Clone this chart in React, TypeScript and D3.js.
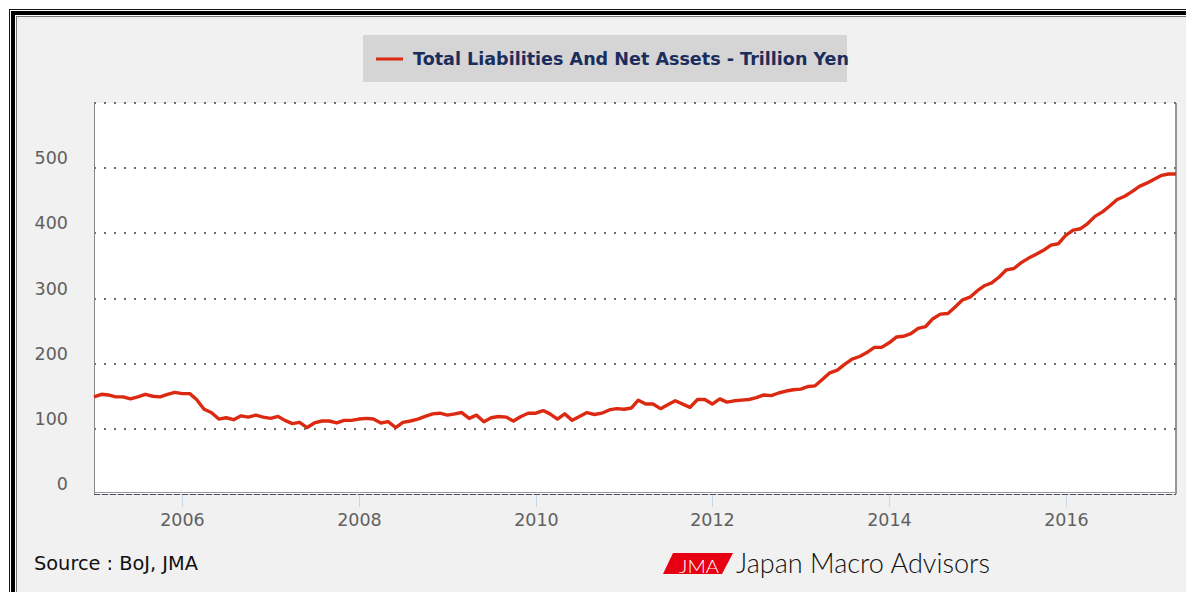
import React from "react"
import * as d3 from "d3"

// BoJ balance sheet, monthly, trillion yen
const v2005 = [149, 153, 152, 149, 149, 146, 149, 153, 150, 149, 153, 156]
const v2006 = [154, 154, 145, 130, 125, 115, 117, 114, 120, 118, 121, 118]
const v2007 = [116, 119, 113, 108, 110, 102, 109, 112, 112, 109, 113, 113]
const v2008 = [115, 116, 115, 109, 111, 102, 110, 112, 115, 119, 123, 124]
const v2009 = [121, 123, 125, 116, 121, 111, 117, 119, 118, 112, 119, 124]
const v2010 = [124, 128, 123, 115, 123, 113, 119, 125, 122, 124, 129, 131]
const v2011 = [130, 132, 144, 138, 138, 131, 137, 143, 138, 133, 145, 145]
const v2012 = [138, 146, 141, 143, 144, 145, 148, 152, 151, 155, 158, 160]
const v2013 = [161, 165, 166, 176, 186, 190, 199, 207, 211, 217, 225, 225]
const v2014 = [232, 241, 242, 246, 254, 257, 269, 276, 277, 287, 298, 302]
const v2015 = [312, 320, 324, 333, 344, 346, 355, 362, 368, 374, 382, 384]
const v2016 = [397, 405, 407, 415, 426, 433, 442, 452, 457, 464, 472, 477]
const v2017 = [483, 489, 491, 491]

const years = [2005, 2006, 2007, 2008, 2009, 2010, 2011, 2012, 2013, 2014, 2015, 2016, 2017]
const byYear = [v2005, v2006, v2007, v2008, v2009, v2010, v2011, v2012, v2013, v2014, v2015, v2016, v2017]

const yTicks = [0, 100, 200, 300, 400, 500]
const gridTicks = [100, 200, 300, 400, 500, 600]
const xTickYears = [2006, 2008, 2010, 2012, 2014, 2016]

const seriesName = "Total Liabilities And Net Assets - Trillion Yen"
const sourceText = "Source : BoJ, JMA"

type Pt = { date: Date; value: number }

const data: Pt[] = []
years.forEach((yr, i) => {
  byYear[i].forEach((v, m) => data.push({ date: new Date(yr, m, 1), value: v }))
})

const W = 1186
const H = 592
const left = 94
const right = 1176
const top = 103
const bottom = 494

export default function App() {
  const x = d3.scaleTime()
    .domain(d3.extent(data, d => d.date) as [Date, Date])
    .range([left, right])
  const y = d3.scaleLinear().domain([0, 600]).range([bottom, top])

  const line = d3.line<Pt>()
    .x(d => x(d.date))
    .y(d => y(d.value))

  const labelFont = "'DejaVu Sans', Verdana, sans-serif"

  return (
    <svg width={W} height={H} style={{ position: "absolute", left: 0, top: 0 }}>
      <rect x={0} y={0} width={W} height={H} fill="#fff" />
      {/* double frame */}
      <rect x={9.5} y={9.5} width={W + 20} height={H + 20} fill="none" stroke="#111" strokeWidth={1} />
      <rect x={13} y={13} width={W + 20} height={H + 20} fill="none" stroke="#000" strokeWidth={4} />
      <rect x={16.5} y={16.5} width={W + 20} height={H + 20} fill="#f1f1f1" stroke="#777" strokeWidth={1} />

      {/* legend */}
      <rect x={363} y={35} width={484} height={47} fill="#d5d5d5" />
      <line x1={376} x2={403} y1={59} y2={59} stroke="#dc2a12" strokeWidth={3} />
      <text x={413} y={65} fontFamily={labelFont} fontWeight="bold" fontSize={17.5}
        fill="#1b2d5c" textLength={436} lengthAdjust="spacingAndGlyphs">{seriesName}</text>

      {/* plot area */}
      <rect x={left} y={top} width={right - left} height={bottom - top} fill="#fff" />
      {gridTicks.map(t => (
        <line key={t} x1={left} x2={right} y1={Math.round(y(t))} y2={Math.round(y(t))}
          stroke="#6f6f6f" strokeWidth={2} strokeDasharray="2 8" />
      ))}
      <line x1={left + 0.5} x2={left + 0.5} y1={top} y2={bottom} stroke="#888" strokeWidth={1} />
      <line x1={right} x2={right} y1={top} y2={bottom} stroke="#777" strokeWidth={1.5} />
      <line x1={left} x2={right} y1={bottom - 1.5} y2={bottom - 1.5} stroke="#999" strokeWidth={1} />
      <line x1={left} x2={right} y1={bottom + 0.5} y2={bottom + 0.5} stroke="#ccd6eb" strokeWidth={1} />
      <line x1={left} x2={right} y1={bottom + 0.5} y2={bottom + 0.5} stroke="#4a4f5a" strokeWidth={1} strokeDasharray="6 2" />

      {yTicks.map(t => (
        <text key={t} x={68} y={y(t) - 4} textAnchor="end" fontFamily={labelFont} fontSize={17.5} fill="#606060">{t}</text>
      ))}

      {xTickYears.map(yr => {
        const px = Math.round(x(new Date(yr, 0, 1))) + 0.5
        return (
          <g key={yr}>
            <line x1={px} x2={px} y1={bottom + 1} y2={bottom + 13} stroke="#ccd6eb" strokeWidth={1} />
            <text x={px} y={526} textAnchor="middle" fontFamily={labelFont} fontSize={17.5} fill="#606060">{yr}</text>
          </g>
        )
      })}

      <path d={line(data) || ""} fill="none" stroke="#dc2a12" strokeWidth={3.4} strokeLinejoin="round" />

      {/* footer */}
      <text x={34} y={570} fontFamily={labelFont} fontSize={19.5} fill="#111"
        textLength={164} lengthAdjust="spacingAndGlyphs">{sourceText}</text>
      <polygon points="673,553 733,553 722,574 663,574" fill="#e60012" />
      <text x={699} y={573} textAnchor="middle" fontFamily="Lato, 'Open Sans', sans-serif" fontWeight={300}
        fontSize={17} fill="#fff" textLength={40} lengthAdjust="spacingAndGlyphs">JMA</text>
      <text x={736} y={573} fontFamily="Lato, 'Open Sans', sans-serif" fontWeight={300} fontSize={27}
        fill="#111" textLength={254} lengthAdjust="spacingAndGlyphs">Japan Macro Advisors</text>
    </svg>
  )
}
